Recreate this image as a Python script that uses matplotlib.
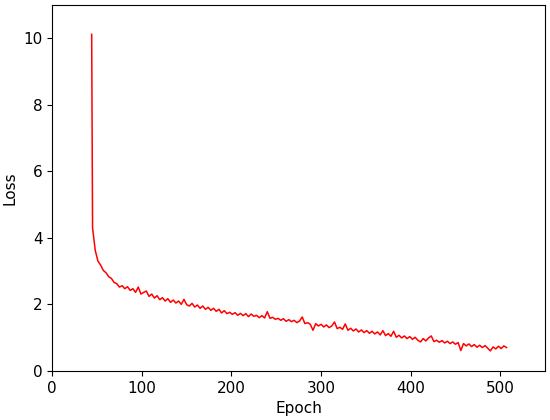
import numpy as np
import matplotlib
matplotlib.use("Agg")
from matplotlib import pyplot as plt

# loss values, first point is the initial spike
loss = [10.12,
        4.30, 3.62, 3.30, 3.18, 3.02, 2.95, 2.83, 2.78, 2.66, 2.62,
        2.52, 2.56, 2.47, 2.53, 2.42, 2.47, 2.36, 2.52, 2.31, 2.36,
        2.40, 2.24, 2.31, 2.19, 2.26, 2.14, 2.20, 2.10, 2.17, 2.06,
        2.13, 2.04, 2.10, 2.00, 2.15, 1.99, 1.95, 2.03, 1.92, 1.98,
        1.88, 1.95, 1.85, 1.91, 1.82, 1.88, 1.79, 1.85, 1.74, 1.81,
        1.72, 1.76, 1.70, 1.75, 1.67, 1.73, 1.66, 1.72, 1.63, 1.71,
        1.64, 1.67, 1.60, 1.66, 1.59, 1.78, 1.58, 1.61, 1.55, 1.58,
        1.52, 1.57, 1.49, 1.54, 1.48, 1.52, 1.45, 1.50, 1.62, 1.42,
        1.45, 1.40, 1.22, 1.42, 1.35, 1.40, 1.32, 1.38, 1.30, 1.35,
        1.47, 1.27, 1.31, 1.25, 1.41, 1.22, 1.28, 1.20, 1.26, 1.17,
        1.23, 1.15, 1.21, 1.13, 1.19, 1.11, 1.17, 1.08, 1.21, 1.06,
        1.12, 1.04, 1.19, 1.01, 1.07, 0.99, 1.05, 0.97, 1.03, 0.95,
        1.01, 0.92, 0.87, 0.97, 0.90, 0.99, 1.05, 0.88, 0.92, 0.86,
        0.91, 0.84, 0.89, 0.82, 0.87, 0.80, 0.85, 0.61, 0.82, 0.75,
        0.81, 0.73, 0.79, 0.71, 0.77, 0.70, 0.76, 0.68, 0.60, 0.72,
        0.66, 0.74, 0.67, 0.75, 0.70]
epochs = [44] + list(range(45, 508, 3))

plt.rcParams["font.size"] = 11
fig = plt.figure(figsize=(5.5, 4.2), dpi=100)
plt.plot(epochs, loss, color="red", linewidth=1.1)
plt.xlim(0, 550)
plt.ylim(0, 11)
plt.xlabel("Epoch")
plt.ylabel("Loss")
plt.subplots_adjust(left=0.095, right=0.991, top=0.988, bottom=0.117)
plt.savefig("out.png")
